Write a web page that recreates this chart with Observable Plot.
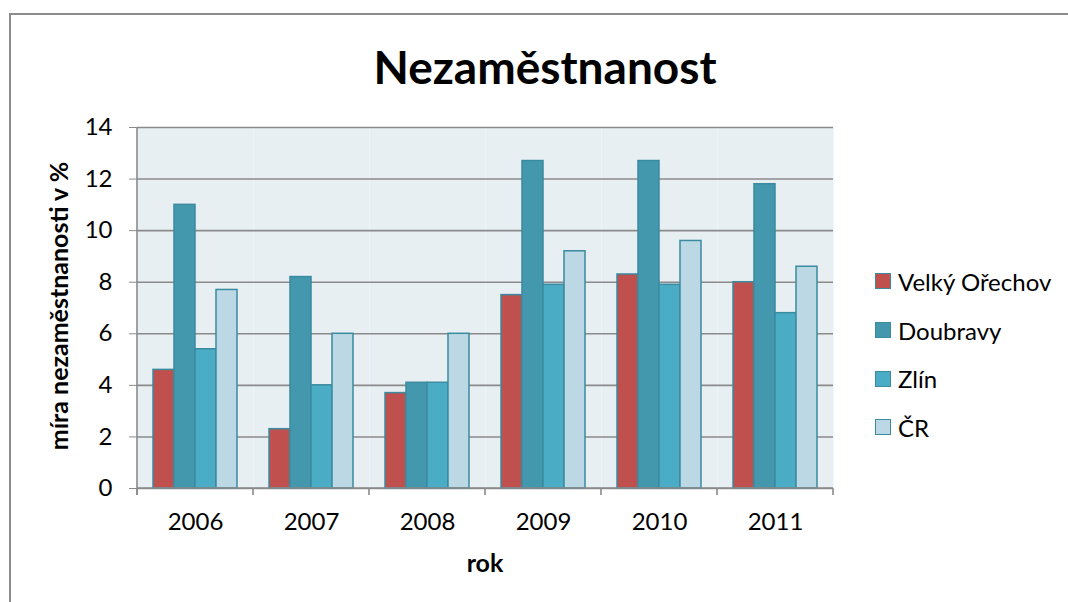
<!DOCTYPE html>
<html>
<head>
<meta charset="utf-8">
<script src="https://cdn.jsdelivr.net/npm/d3@7"></script>
<script src="https://cdn.jsdelivr.net/npm/@observablehq/plot@0.6"></script>
<style>
  html, body { margin: 0; padding: 0; background: white; }
  body { font-family: Lato, "Open Sans", sans-serif; }
  #wrap { position: relative; width: 1068px; height: 602px; overflow: hidden; background: white; }
  #frame { position: absolute; left: 9px; top: 13px; width: 1100px; height: 700px; border: 2px solid #8c8c8c; box-sizing: border-box; pointer-events: none; }
  #title { position: absolute; left: 0; width: 1090px; top: 37px; text-align: center; font-weight: 700; font-size: 46px; line-height: 60px; color: #000; }
  #chart { position: absolute; left: 0; top: 0; }
  #ylabel { position: absolute; left: 58px; top: 306px; transform: translate(-50%, -50%) rotate(-90deg); font-weight: 700; font-size: 25px; white-space: nowrap; color: #000; }
  #xlabel { position: absolute; left: 485px; top: 562px; transform: translate(-50%, -50%); font-weight: 700; font-size: 25px; color: #000; }
  #legend { position: absolute; left: 875px; top: 257px; }
  .row { display: flex; align-items: center; height: 48.7px; font-size: 24px; color: #000; }
  .sw { width: 14px; height: 14px; border: 1.5px solid #3a8ba0; margin-right: 7px; }
</style>
</head>
<body>
<div id="wrap">
  <div id="chart"></div>
  <div id="title">Nezaměstnanost</div>
  <div id="ylabel">míra nezaměstnanosti v %</div>
  <div id="xlabel">rok</div>
  <div id="legend"></div>
  <div id="frame"></div>
</div>
<script>
const years = ["2006", "2007", "2008", "2009", "2010", "2011"];
const seriesNames = ["Velký Ořechov", "Doubravy", "Zlín", "ČR"];
const velkyOrechov = [4.6, 2.3, 3.7, 7.5, 8.3, 8.0];
const doubravy = [11.0, 8.2, 4.1, 12.7, 12.7, 11.8];
const zlin = [5.4, 4.0, 4.1, 7.9, 7.9, 6.8];
const cr = [7.7, 6.0, 6.0, 9.2, 9.6, 8.6];
const colors = ["#C0504D", "#4398AE", "#4BACC6", "#BCD8E4"];
const yTicks = [0, 2, 4, 6, 8, 10, 12, 14];

const seriesValues = [velkyOrechov, doubravy, zlin, cr];
const rows = [];
years.forEach((yr, i) => {
  seriesNames.forEach((s, j) => rows.push({year: yr, series: s, value: seriesValues[j][i]}));
});

const W = 860, H = 602;
const chart = Plot.plot({
  width: W,
  height: H,
  marginLeft: 136,
  marginRight: 27,
  marginTop: 127,
  marginBottom: 114,
  style: {background: "transparent", fontFamily: "Lato, 'Open Sans', sans-serif", fontSize: "24px", color: "#000"},
  fx: {domain: years, padding: 0, label: null},
  x: {domain: seriesNames, paddingInner: 0, paddingOuter: 0.73, axis: null},
  y: {domain: [0, 14], label: null},
  color: {domain: seriesNames, range: colors},
  marks: [
    Plot.frame({fill: "#E8EFF3", stroke: null}),
    Plot.gridY(yTicks, {stroke: "#8a8a8a", strokeOpacity: 1, strokeWidth: 1.6}),
    Plot.barY(rows, {fx: "year", x: "series", y: "value", fill: "series", stroke: "#3a8ba0", strokeWidth: 1.5, inset: 0}),
    Plot.axisY(yTicks, {tickSize: 8, tickPadding: 17, stroke: "#8a8a8a", fill: "#000", fontSize: 24, label: null, tickFormat: d => String(d)}),
    Plot.axisFx({anchor: "bottom", tickSize: 0, tickPadding: 24, fontSize: 24, fill: "#000", label: null})
  ]
});
document.getElementById("chart").appendChild(chart);

// axis line and category boundary ticks from the plot's own scales
const fx = chart.scale("fx");
const y = chart.scale("y");
const yPos = v => y.apply ? y.apply(v) : (y.range[0] + (v - y.domain[0]) / (y.domain[1] - y.domain[0]) * (y.range[1] - y.range[0]));
const step = fx.step;
const bandStart = (v, i) => fx.apply ? fx.apply(v) : fx.range[0] + i * step;
const svg = d3.select(chart);
const g = svg.append("g").attr("stroke", "#8a8a8a").attr("stroke-width", 1.6);
const y0 = yPos(0), yTop = yPos(14);
const xLeft = bandStart(years[0], 0);
g.append("line").attr("x1", xLeft).attr("x2", xLeft).attr("y1", yTop).attr("y2", y0 + 7);
const bounds = years.map((v, i) => bandStart(v, i)).concat([bandStart(years[years.length - 1], years.length - 1) + fx.bandwidth]);
bounds.forEach(b => g.append("line").attr("x1", b).attr("x2", b).attr("y1", y0).attr("y2", y0 + 7));
g.append("line").attr("x1", xLeft).attr("x2", bounds[bounds.length - 1]).attr("y1", y0).attr("y2", y0);

// legend
const leg = document.getElementById("legend");
seriesNames.forEach((s, j) => {
  const r = document.createElement("div");
  r.className = "row";
  const sw = document.createElement("div");
  sw.className = "sw";
  sw.style.background = colors[j];
  const t = document.createElement("span");
  t.textContent = s;
  r.appendChild(sw); r.appendChild(t);
  leg.appendChild(r);
});
</script>
</body>
</html>
